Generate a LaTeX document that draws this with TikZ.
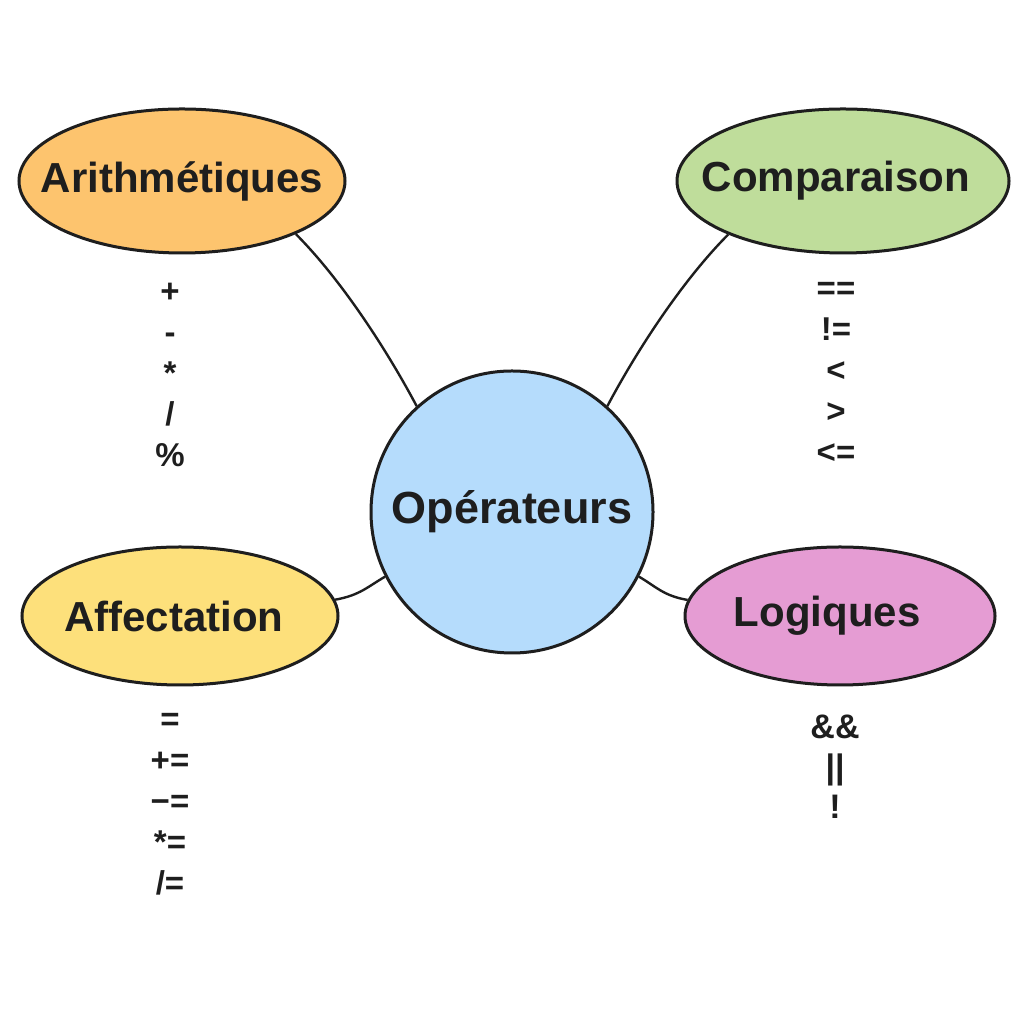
\documentclass[tikz,border=0pt]{standalone}
\usepackage{fontspec}
\setmainfont{Liberation Sans}
\usetikzlibrary{shapes.geometric}
\definecolor{ink}{HTML}{1E1E1E}
\definecolor{corange}{HTML}{FDC46E}
\definecolor{cgreen}{HTML}{BFDD9B}
\definecolor{cyellow}{HTML}{FDE07B}
\definecolor{cpink}{HTML}{E59CD3}
\definecolor{cblue}{HTML}{B5DCFC}
\tikzset{
  topic/.style={ellipse, draw=ink, line width=3pt, inner sep=0pt},
  topictext/.style={text=ink, inner sep=0pt, font=\fontsize{42}{42}\selectfont\bfseries},
  hub/.style={circle, draw=ink, line width=3pt, inner sep=0pt, text=ink,
    minimum size=282pt, font=\fontsize{45}{45}\selectfont\bfseries},
  oplist/.style={align=center, text=ink, inner sep=0pt,
    font=\fontsize{33}{41}\selectfont\bfseries},
  link/.style={draw=ink, line width=2.4pt}
}
\begin{document}
\begin{tikzpicture}[x=1pt,y=1pt]
\useasboundingbox (0,0) rectangle (1024,1024);
\fill[white] (0,0) rectangle (1024,1024);

\node[hub, fill=cblue] (op) at (512,512) {Opérateurs};
\node[topic, fill=corange, minimum width=326pt, minimum height=144pt] (ari) at (182,843) {};
\node[topic, fill=cgreen, minimum width=332pt, minimum height=144pt] (cmp) at (843,843) {};
\node[topic, fill=cyellow, minimum width=316pt, minimum height=138pt] (aff) at (180,408) {};
\node[topic, fill=cpink, minimum width=310pt, minimum height=138pt] (log) at (840,408) {};
\node[topictext] (aritext) at (ari.center) {Arithmétiques};
\node[topictext] (cmptext) at ([xshift=-7pt]cmp.center) {Comparaison};
\node[topictext] (afftext) at ([xshift=-6pt]aff.center) {Affectation};
\node[topictext] (logtext) at ([xshift=-13pt]log.center) {Logiques};

\draw[link] (ari.-25) .. controls +(-45:60) and +(118:70) .. (op.132);
\draw[link] (cmp.-155) .. controls +(-135:60) and +(62:70) .. (op.48);
\draw[link] (aff.6) .. controls +(10:25) and +(210:20) .. (op.-153);
\draw[link] (log.174) .. controls +(170:25) and +(-30:20) .. (op.-27);

\node[oplist] (arilist) at (170,649) {+\\-\\*\\/\\\%};
\node[oplist] (cmplist) at (836,651) {==\\!=\\<\\>\\<=};
\node[oplist] (afflist) at (170,220) {=\\+=\\−=\\*=\\/=};
\node[oplist, font=\fontsize{34}{40}\selectfont\bfseries] (loglist) at (835,257) {\&\&\\||\\!};
\end{tikzpicture}
\end{document}
